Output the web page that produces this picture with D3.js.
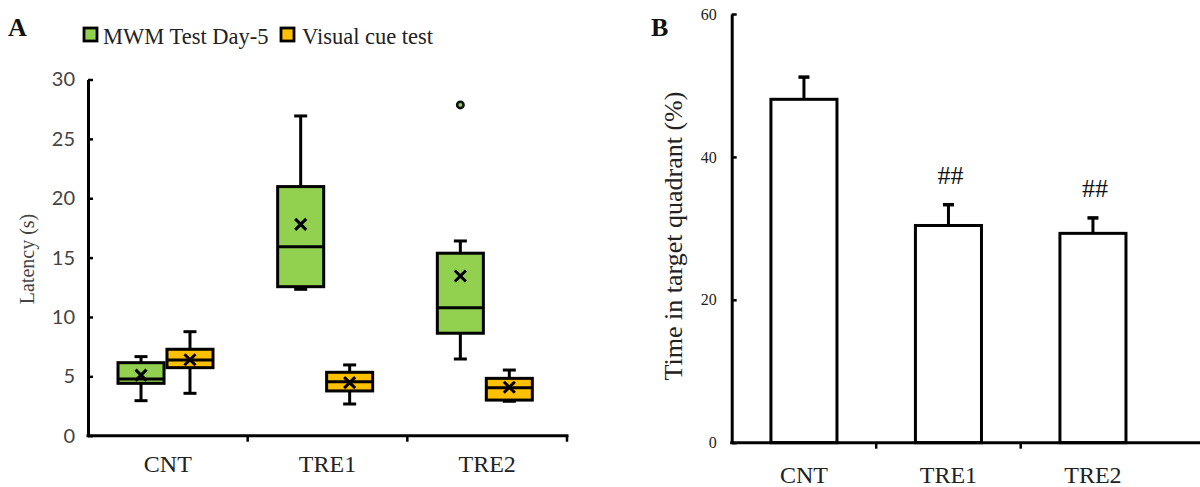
<!DOCTYPE html>
<html>
<head>
<meta charset="utf-8">
<script src="https://cdn.jsdelivr.net/npm/d3@7"></script>
<style>
  html, body { margin: 0; padding: 0; background: #fff; }
  svg { display: block; }
</style>
</head>
<body>
<svg id="chart" width="1200" height="487"></svg>
<script>
// ---------- Data: panel A (box plots) ----------
const categoriesA = ["CNT", "TRE1", "TRE2"];
const seriesA = ["MWM Test Day-5", "Visual cue test"];
const seriesColors = ["#92d050", "#ffc000"];
const yTicksA = [0, 5, 10, 15, 20, 25, 30];

// per series, one value per category
const mwmWhiskerLow  = [2.95, 12.33, 6.46];
const mwmQ1          = [4.41, 12.55, 8.63];
const mwmMedian      = [4.78, 15.92, 10.78];
const mwmQ3          = [6.15, 20.98, 15.37];
const mwmWhiskerHigh = [6.66, 26.93, 16.4];
const mwmMean        = [5.1, 17.8, 13.45];
const mwmOutliers    = [[], [], [27.86]];

const visWhiskerLow  = [3.57, 2.67, 2.9];
const visQ1          = [5.73, 3.77, 3.0];
const visMedian      = [6.38, 4.55, 4.04];
const visQ3          = [7.28, 5.34, 4.83];
const visWhiskerHigh = [8.76, 5.96, 5.53];
const visMean        = [6.4, 4.47, 4.08];
const visOutliers    = [[], [], []];

// ---------- Data: panel B (bar chart) ----------
const categoriesB = ["CNT", "TRE1", "TRE2"];
const timeInQuadrant = [48.06, 30.4, 29.3];
const timeError = [3.25, 3.05, 2.3];
const significance = ["", "##", "##"];
const yTicksB = [0, 20, 40, 60];

// ---------- Build ----------
const svg = d3.select("#chart");
const serif = "'Liberation Serif', 'Times New Roman', serif";
const sans = "Lato, 'Liberation Sans', sans-serif";

const boxData = [
  { name: seriesA[0], color: seriesColors[0], lo: mwmWhiskerLow, q1: mwmQ1, med: mwmMedian, q3: mwmQ3, hi: mwmWhiskerHigh, mean: mwmMean, out: mwmOutliers },
  { name: seriesA[1], color: seriesColors[1], lo: visWhiskerLow, q1: visQ1, med: visMedian, q3: visQ3, hi: visWhiskerHigh, mean: visMean, out: visOutliers }
];

// ===== Panel A =====
const A = { left: 88, right: 567, top: 79.5, bottom: 435.7 };
const yA = d3.scaleLinear().domain([0, 30]).range([A.bottom, A.top]);
const x0A = d3.scaleBand().domain(categoriesA).range([A.left, A.right]).paddingInner(0).paddingOuter(0);
const x1A = d3.scaleBand().domain(seriesA).range([30, 125]).paddingInner(0.06);

const gA = svg.append("g");

// panel letter
svg.append("text").attr("x", 8).attr("y", 36).text("A")
  .attr("font-family", serif).attr("font-weight", "bold").attr("font-size", 26).attr("fill", "#111");

// legend
const legA = svg.append("g");
const legPos = [{ sx: 83, tx: 103 }, { sx: 280, tx: 302 }];
seriesA.forEach((s, i) => {
  legA.append("rect").attr("x", legPos[i].sx + 1).attr("y", 28).attr("width", 13).attr("height", 13)
    .attr("fill", seriesColors[i]).attr("stroke", "#000").attr("stroke-width", 2.8);
  legA.append("text").attr("x", legPos[i].tx).attr("y", 44).text(s)
    .attr("font-family", serif).attr("font-size", 22.5).attr("fill", "#222");
});

// y axis A
const yAxisA = d3.axisLeft(yA).tickValues(yTicksA).tickSize(-5).tickSizeOuter(0).tickPadding(13);
const gyA = gA.append("g").attr("transform", `translate(${A.left},0)`).call(yAxisA);
gyA.select(".domain").attr("stroke", "#000").attr("stroke-width", 3);
gyA.selectAll(".tick line").attr("stroke", "#000").attr("stroke-width", 2.5);
gyA.selectAll(".tick text").attr("font-family", sans).attr("font-size", 20).attr("fill", "#444");

// x axis A
const gxA = gA.append("g").attr("transform", `translate(0,${A.bottom})`);
gxA.append("line").attr("x1", A.left - 1.5).attr("x2", A.right + 1.5).attr("stroke", "#000").attr("stroke-width", 3);
gxA.selectAll(".bt").data(categoriesA).join("line").attr("class", "bt")
  .attr("x1", d => x0A(d) + x0A.bandwidth()).attr("x2", d => x0A(d) + x0A.bandwidth())
  .attr("y1", 0).attr("y2", 6).attr("stroke", "#000").attr("stroke-width", 2.5);
gxA.selectAll(".lbl").data(categoriesA).join("text").attr("class", "lbl")
  .attr("x", d => x0A(d) + x0A.bandwidth() / 2).attr("y", 36).attr("text-anchor", "middle")
  .text(d => d).attr("font-family", serif).attr("font-size", 24).attr("fill", "#222");

// y label A
svg.append("text").attr("transform", `translate(27,259) rotate(-90)`).attr("text-anchor", "middle")
  .attr("dominant-baseline", "central").text("Latency (s)")
  .attr("font-family", serif).attr("font-size", 20).attr("fill", "#444");

// boxes
boxData.forEach(s => {
  const g = gA.append("g");
  categoriesA.forEach((c, i) => {
    const bx = x0A(c) + x1A(s.name);
    const bw = x1A.bandwidth();
    const cx = bx + bw / 2;
    const capW = 13;
    const q1 = yA(s.q1[i]), q3 = yA(s.q3[i]), med = yA(s.med[i]), lo = yA(s.lo[i]), hi = yA(s.hi[i]);
    // whiskers
    g.append("line").attr("x1", cx).attr("x2", cx).attr("y1", q3).attr("y2", hi).attr("stroke", "#000").attr("stroke-width", 3);
    g.append("line").attr("x1", cx).attr("x2", cx).attr("y1", q1).attr("y2", lo).attr("stroke", "#000").attr("stroke-width", 3);
    g.append("line").attr("x1", cx - capW / 2).attr("x2", cx + capW / 2).attr("y1", hi).attr("y2", hi).attr("stroke", "#000").attr("stroke-width", 3);
    g.append("line").attr("x1", cx - capW / 2).attr("x2", cx + capW / 2).attr("y1", lo).attr("y2", lo).attr("stroke", "#000").attr("stroke-width", 3);
    // box
    g.append("rect").attr("x", bx).attr("y", q3).attr("width", bw).attr("height", q1 - q3)
      .attr("fill", s.color).attr("stroke", "#000").attr("stroke-width", 3);
    // median
    g.append("line").attr("x1", bx).attr("x2", bx + bw).attr("y1", med).attr("y2", med).attr("stroke", "#000").attr("stroke-width", 3);
    // mean marker (x)
    const my = yA(s.mean[i]), r = 5.5;
    g.append("path").attr("d", `M${cx - r},${my - r}L${cx + r},${my + r}M${cx - r},${my + r}L${cx + r},${my - r}`)
      .attr("stroke", "#000").attr("stroke-width", 3).attr("fill", "none");
    // outliers
    s.out[i].forEach(v => {
      g.append("circle").attr("cx", cx).attr("cy", yA(v)).attr("r", 3.2)
        .attr("fill", s.color).attr("stroke", "#111").attr("stroke-width", 2.6);
    });
  });
});

// ===== Panel B =====
const B = { left: 731.7, top: 14, bottom: 442.7, step: 144.5 };
const yB = d3.scaleLinear().domain([0, 60]).range([B.bottom, B.top]);
const xB = d3.scaleBand().domain(categoriesB).range([B.left, B.left + 3 * B.step]).padding(0);
const barW = xB.bandwidth() * 0.457;
const gB = svg.append("g");

svg.append("text").attr("x", 651).attr("y", 36).text("B")
  .attr("font-family", serif).attr("font-weight", "bold").attr("font-size", 26).attr("fill", "#111");

// bars
gB.selectAll(".bar").data(categoriesB).join("rect").attr("class", "bar")
  .attr("x", d => xB(d) + (xB.bandwidth() - barW) / 2)
  .attr("y", (d, i) => yB(timeInQuadrant[i]))
  .attr("width", barW)
  .attr("height", (d, i) => yB(0) - yB(timeInQuadrant[i]))
  .attr("fill", "#fff").attr("stroke", "#000").attr("stroke-width", 3);

// error bars
categoriesB.forEach((c, i) => {
  const cx = xB(c) + xB.bandwidth() / 2;
  const yTop = yB(timeInQuadrant[i] + timeError[i]);
  gB.append("line").attr("x1", cx).attr("x2", cx).attr("y1", yB(timeInQuadrant[i])).attr("y2", yTop)
    .attr("stroke", "#000").attr("stroke-width", 3);
  gB.append("line").attr("x1", cx - 5.5).attr("x2", cx + 5.5).attr("y1", yTop + 1).attr("y2", yTop + 1)
    .attr("stroke", "#000").attr("stroke-width", 3.5);
  if (significance[i]) {
    gB.append("text").attr("x", cx + 2).attr("y", yTop - 19.5).attr("text-anchor", "middle")
      .text(significance[i]).attr("font-family", serif).attr("font-size", 26).attr("fill", "#111");
  }
});

// y axis
const yAxisB = d3.axisLeft(yB).tickValues(yTicksB).tickSize(-5).tickSizeOuter(0).tickPadding(15);
const gy = gB.append("g").attr("transform", `translate(${B.left},0)`).call(yAxisB);
gy.select(".domain").attr("stroke", "#000").attr("stroke-width", 3);
gy.selectAll(".tick line").attr("stroke", "#000").attr("stroke-width", 2.5);
gy.selectAll(".tick text").attr("font-family", serif).attr("font-size", 16).attr("fill", "#222");

// x axis
const gx = gB.append("g").attr("transform", `translate(0,${B.bottom})`);
gx.append("line").attr("x1", B.left - 1.5).attr("x2", 1200).attr("stroke", "#000").attr("stroke-width", 3);
gx.selectAll(".bt").data(categoriesB.slice(0, 2)).join("line").attr("class", "bt")
  .attr("x1", d => xB(d) + xB.bandwidth()).attr("x2", d => xB(d) + xB.bandwidth())
  .attr("y1", 0).attr("y2", 6).attr("stroke", "#000").attr("stroke-width", 2.5);
gx.selectAll(".lbl").data(categoriesB).join("text").attr("class", "lbl")
  .attr("x", d => xB(d) + xB.bandwidth() / 2).attr("y", 40).attr("text-anchor", "middle")
  .text(d => d).attr("font-family", serif).attr("font-size", 24).attr("fill", "#222");

svg.append("text").attr("transform", `translate(673,236) rotate(-90)`).attr("text-anchor", "middle")
  .attr("dominant-baseline", "central").text("Time in target quadrant (%)")
  .attr("font-family", serif).attr("font-size", 26).attr("fill", "#222");
</script>
</body>
</html>
